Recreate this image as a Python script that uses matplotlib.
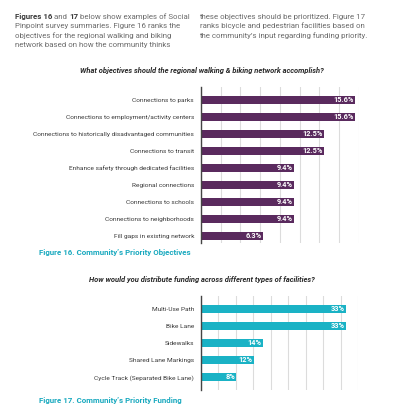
import matplotlib
matplotlib.use("Agg")
import matplotlib.pyplot as plt
import matplotlib.transforms as mtransforms
from matplotlib import font_manager
import numpy as np

# ---------------- data ----------------
obj_categories = [
    "Connections to parks",
    "Connections to employment/activity centers",
    "Connections to historically disadvantaged communities",
    "Connections to transit",
    "Enhance safety through dedicated facilities",
    "Regional connections",
    "Connections to schools",
    "Connections to neighborhoods",
    "Fill gaps in existing network",
]
obj_values = [15.6, 15.6, 12.5, 12.5, 9.4, 9.4, 9.4, 9.4, 6.3]
obj_labels = ["15.6%", "15.6%", "12.5%", "12.5%", "9.4%", "9.4%", "9.4%", "9.4%", "6.3%"]

fund_categories = [
    "Multi-Use Path",
    "Bike Lane",
    "Sidewalks",
    "Shared Lane Markings",
    "Cycle Track (Separated Bike Lane)",
]
fund_values = [33, 33, 14, 12, 8]
fund_labels = ["33%", "33%", "14%", "12%", "8%"]

title1 = "What objectives should the regional walking & biking network accomplish?"
title2 = "How would you distribute funding across different types of facilities?"
caption1 = "Figure 16. Community\u2019s Priority Objectives"
caption2 = "Figure 17. Community\u2019s Priority Funding"

para_left = [
    [("Figures 16", "bold"), (" and ", "normal"), ("17", "bold"), (" below show examples of Social", "normal")],
    [("Pinpoint survey summaries. Figure 16 ranks the", "normal")],
    [("objectives for the regional walking and biking", "normal")],
    [("network based on how the community thinks", "normal")],
]
para_right = [
    [("these objectives should be prioritized. Figure 17", "normal")],
    [("ranks bicycle and pedestrian facilities based on", "normal")],
    [("the community\u2019s input regarding funding priority.", "normal")],
]

# ---------------- style ----------------
W, H = 393, 420
DPI = 100
PURPLE = "#5a2a5e"
TEAL = "#1ab2c5"
CAPTION = "#19a9bf"
GRID = "#dcdcdc"
SPINE = "#444444"
LABEL = "#3a3a3a"
FONT = "Roboto"

installed = {f.name for f in font_manager.fontManager.ttflist}
if "Liberation Sans Narrow" in installed:
    LABEL_FONT = ["Liberation Sans Narrow", "DejaVu Sans"]
    LABEL_SIZE = 5.5
else:
    LABEL_FONT = [FONT, "DejaVu Sans"]
    LABEL_SIZE = 4.65

plt.rcParams["font.family"] = [FONT, "DejaVu Sans"]

fig = plt.figure(figsize=(W / DPI, H / DPI), dpi=DPI)
fig.patch.set_facecolor("white")
px = mtransforms.IdentityTransform()


def fy(y_top):
    return H - y_top


renderer = fig.canvas.get_renderer()


def rich_line(x, y_top, segs, size, color_reg="#6b6b6b", color_bold="#3a3a3a"):
    cx = x
    for txt, weight in segs:
        t = fig.text(cx, fy(y_top), txt, transform=px, fontsize=size,
                     fontweight=weight, va="center", ha="left",
                     color=color_bold if weight == "bold" else color_reg)
        bb = t.get_window_extent(renderer)
        cx = bb.x1


para_size = 5.7
ys = [16.7, 26.0, 35.3, 44.7]
for segs, y in zip(para_left, ys):
    rich_line(15, y, segs, para_size)
for segs, y in zip(para_right, ys):
    rich_line(199.5, y, segs, para_size)


def make_chart(ax_rect, cats, vals, labels, color, xmax, nint, ylim, title, title_y, caption, caption_y):
    ax = fig.add_axes(ax_rect)
    n = len(cats)
    pos = np.arange(n)
    ax.barh(pos, vals, height=0.48, color=color, zorder=3)
    ax.set_xlim(0, xmax)
    ax.set_ylim(*ylim)
    ax.set_xticks(np.linspace(0, xmax, nint + 1))
    ax.xaxis.grid(True, color=GRID, linewidth=0.8, zorder=0)
    ax.tick_params(axis="x", length=0, labelbottom=False)
    ax.tick_params(axis="y", length=0, pad=5)
    ax.set_yticks(pos)
    ax.set_yticklabels(cats, fontsize=LABEL_SIZE, color=LABEL, family=LABEL_FONT)
    for s in ["top", "right", "bottom"]:
        ax.spines[s].set_visible(False)
    ax.spines["left"].set_color(SPINE)
    ax.spines["left"].set_linewidth(1.0)
    ax.spines["left"].set_zorder(4)
    for p, v, lab in zip(pos, vals, labels):
        ax.text(v - xmax * 0.008, p, lab, ha="right", va="center", color="white",
                fontsize=5.3, fontweight="bold", zorder=5)
    fig.text(201.5, fy(title_y), title, transform=px, ha="center", va="center",
             fontsize=5.4, fontweight="bold", fontstyle="italic", color="#2a2a2a")
    fig.text(39, fy(caption_y), caption, transform=px, ha="left", va="center",
             fontsize=5.7, fontweight="bold", color=CAPTION)
    return ax


# top chart: x from 201 to 358.6 px, y from 86.7 to 243.3 px
make_chart([201 / W, 1 - 243.3 / H, (358.6 - 201) / W, (243.3 - 86.7) / H],
           obj_categories, obj_values, obj_labels, PURPLE, 16, 8,
           (8 + 7.3 / 17, -13.3 / 17), title1, 70.7, caption1, 252.0)

# bottom chart: x from 201 to 358.3 px, y from 295.7 to 390 px
make_chart([201 / W, 1 - 390 / H, (358.3 - 201) / W, (390 - 295.7) / H],
           fund_categories, fund_values, fund_labels, TEAL, 35.75, 9,
           (4 + 13 / 17, -13.3 / 17), title2, 279.3, caption2, 400.3)

fig.savefig("out.png", dpi=DPI, facecolor="white")
